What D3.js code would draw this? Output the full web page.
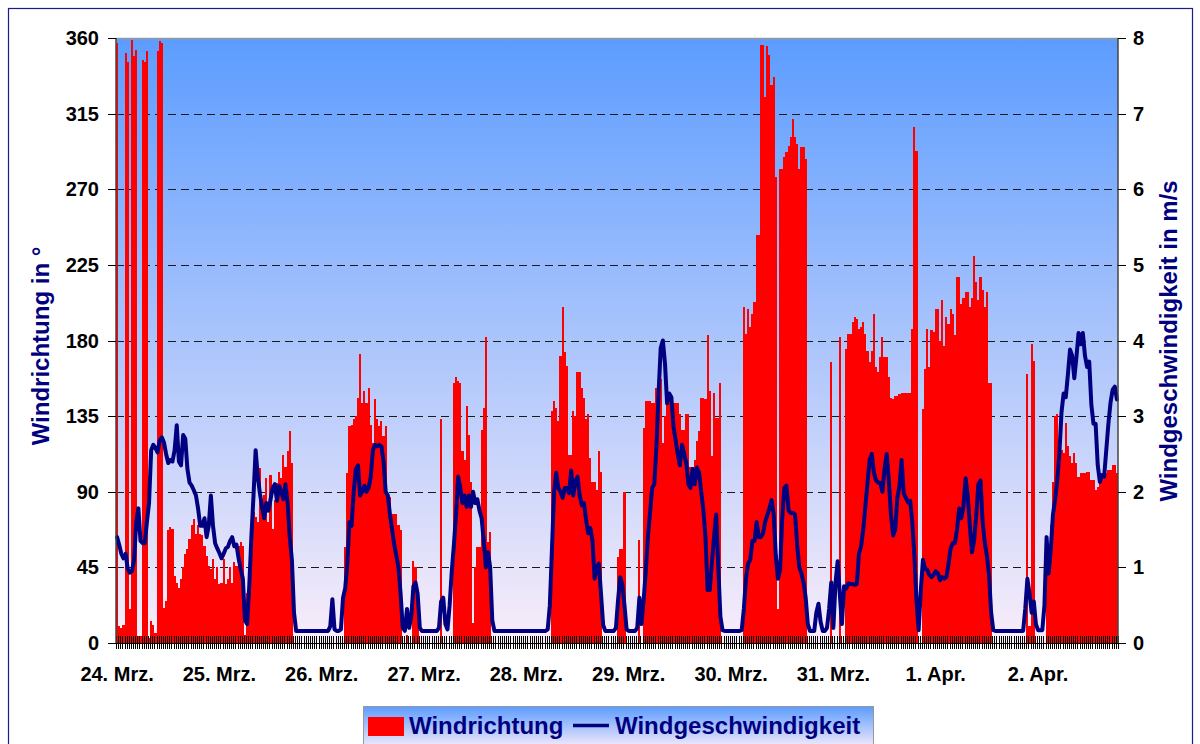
<!doctype html>
<html lang="en">
<head>
  <meta charset="utf-8">
  <title>Windrichtung und Windgeschwindigkeit</title>
  <style>
    body { margin:0; background:#fff; }
    svg { display:block; font-family: Arial, "Liberation Sans", sans-serif; }
    .tick-label { font-size:20px; font-weight:bold; fill:#000; }
    .axis-title { font-size:24px; font-weight:bold; fill:#000080; }
    .legend-text { font-size:24px; font-weight:bold; fill:#000080; }
  </style>
</head>
<body>
<svg id="chart" width="1200" height="744"></svg>

<script src="https://cdn.jsdelivr.net/npm/d3@7"></script>
<script>
// day labels on the category axis, one every 48 half-hour slots
var dayLabels = ["24. Mrz.", "25. Mrz.", "26. Mrz.", "27. Mrz.", "28. Mrz.",
                 "29. Mrz.", "30. Mrz.", "31. Mrz.", "1. Apr.", "2. Apr."];
var slotsPerDay = 48;
var dirTicks = [0, 45, 90, 135, 180, 225, 270, 315, 360];
var speedTicks = [0, 1, 2, 3, 4, 5, 6, 7, 8];

// Windrichtung in Grad, halbstuendlich
var dir24 = [357,10,9,11,351,346,20,359,349,353,4,4,347,346,352,3,13,11,6,352,358,357,21,25,
             67,69,68,40,36,33,38,45,53,56,62,70,74,65,70,65,64,58,52,46,44,50,38,45];
var dir25 = [35,36,50,35,38,45,36,48,46,58,60,58,5,30,45,60,78,75,72,104,80,88,98,72,
             100,68,85,95,102,98,112,105,114,126,107,0,0,0,0,0,0,0,0,0,0,0,0,0];
var dir26 = [0,0,0,0,0,0,0,0,0,0,0,57,101,129,130,133,135,146,172,143,150,143,152,130,
             119,145,133,129,132,123,129,85,87,77,77,77,70,67,0,0,5,0,0,49,45,30,0,0];
var dir27 = [0,0,0,0,0,0,0,0,133,0,0,0,0,0,155,158,156,155,114,109,141,124,96,12,
             45,57,57,127,140,182,60,66,0,0,0,0,0,0,0,0,0,0,0,0,0,0,0,0];
var dir28 = [0,0,0,0,0,0,0,0,0,0,0,0,138,144,140,132,171,200,173,165,112,112,138,135,
             161,161,152,146,133,136,110,96,96,91,114,102,0,0,0,0,0,0,0,51,56,56,90,0];
var dir29 = [0,0,0,0,0,61,0,128,144,144,144,143,143,152,157,157,119,135,149,149,143,143,143,143,
             136,127,127,136,136,105,105,109,120,126,146,146,145,183,150,111,149,134,134,155,0,0,0,0];
var dir30 = [0,0,0,0,0,0,200,184,199,188,196,203,243,243,356,356,325,355,350,332,337,277,20,282,
             282,289,292,296,301,312,301,297,282,295,295,288,0,0,0,0,0,0,0,0,0,0,0,167];
var dir31 = [0,0,0,182,0,0,175,184,184,191,194,193,187,188,191,184,174,167,174,196,164,161,170,182,
             170,170,158,146,145,147,147,148,149,149,149,149,149,187,307,293,0,0,139,163,187,164,186,185];
var dir01 = [199,199,180,204,177,194,190,199,196,183,218,218,202,205,209,209,200,205,230,215,204,218,210,200,
             209,155,155,0,0,0,0,0,0,0,0,0,0,0,0,0,0,0,0,160,10,178,168,0];
var dir02 = [0,0,0,0,42,55,70,96,135,136,117,115,113,131,117,111,107,113,107,99,101,101,101,102,
             102,97,97,91,93,96,99,99,101,103,103,106,106,101];

// Windgeschwindigkeit in m/s, halbstuendlich
var spd24 = [1.40,1.30,1.18,1.12,1.18,0.98,0.93,0.95,1.10,1.60,1.78,1.35,1.32,1.32,1.60,1.85,2.55,2.62,2.58,2.52,2.68,2.72,2.65,2.50,
             2.38,2.42,2.40,2.55,2.88,2.40,2.35,2.75,2.70,2.30,2.12,2.08,2.02,1.95,1.78,1.55,1.55,1.65,1.40,1.55,1.95,1.55,1.32,1.25];
var spd25 = [1.19,1.12,1.18,1.25,1.27,1.35,1.40,1.28,1.30,1.12,0.98,0.85,0.30,0.25,0.75,1.40,1.95,2.55,2.20,1.98,1.80,1.65,1.85,1.75,
             1.90,2.05,2.10,1.88,2.08,2.00,1.90,2.10,1.85,1.40,1.10,0.40,0.16,0.16,0.16,0.16,0.16,0.16,0.16,0.16,0.16,0.16,0.16,0.16];
var spd26 = [0.16,0.16,0.16,0.16,0.22,0.58,0.18,0.16,0.16,0.18,0.60,0.72,1.05,1.60,1.55,2.00,2.30,2.35,1.95,2.00,2.08,2.00,2.05,2.20,
             2.55,2.62,2.60,2.62,2.60,2.40,2.00,1.95,1.70,1.50,1.30,1.15,1.00,0.65,0.20,0.16,0.45,0.20,0.35,0.75,0.80,0.65,0.20,0.16];
var spd27 = [0.16,0.16,0.16,0.16,0.16,0.16,0.16,0.20,0.55,0.60,0.25,0.18,0.50,0.95,1.30,1.70,2.20,2.05,1.85,1.95,1.80,1.95,1.80,2.00,
             1.85,1.90,1.75,1.65,1.35,1.00,1.20,1.00,0.30,0.16,0.16,0.16,0.16,0.16,0.16,0.16,0.16,0.16,0.16,0.16,0.16,0.16,0.16,0.16];
var spd28 = [0.16,0.16,0.16,0.16,0.16,0.16,0.16,0.16,0.16,0.16,0.18,0.50,1.25,2.00,2.25,2.05,2.00,1.92,2.05,2.05,1.98,2.28,1.95,2.15,
             2.20,1.95,1.82,1.85,1.63,1.45,1.52,1.35,0.85,1.00,1.05,0.65,0.24,0.16,0.16,0.16,0.16,0.16,0.20,0.57,0.87,0.78,0.50,0.18];
var spd29 = [0.16,0.16,0.16,0.16,0.20,0.60,0.25,0.57,0.95,1.40,1.72,2.05,2.10,2.60,3.30,3.90,4.00,3.70,3.17,3.30,3.25,2.86,2.68,2.50,
             2.35,2.62,2.50,2.38,2.10,2.05,2.30,2.10,2.32,2.25,2.00,1.76,1.40,0.70,0.70,1.06,1.40,1.70,1.00,0.35,0.17,0.16,0.16,0.16];
var spd30 = [0.16,0.16,0.16,0.16,0.16,0.17,0.45,0.85,1.05,1.10,1.35,1.35,1.60,1.40,1.40,1.45,1.60,1.69,1.78,1.89,1.70,1.15,0.85,0.97,
             1.65,2.05,2.08,1.75,1.72,1.72,1.70,1.30,1.00,0.92,0.80,0.60,0.25,0.16,0.16,0.16,0.40,0.52,0.28,0.16,0.16,0.20,0.45,0.80];
var spd31 = [0.20,0.80,1.08,0.65,0.25,0.75,0.72,0.79,0.78,0.78,0.77,0.78,1.18,1.28,1.50,1.80,2.12,2.42,2.50,2.25,2.15,2.12,2.12,2.00,
             2.30,2.50,2.15,1.70,1.42,1.50,1.92,2.08,2.42,1.98,1.92,1.86,1.88,1.60,1.15,0.55,0.17,0.70,1.10,0.98,0.97,0.90,0.87,0.90];
var spd01 = [0.95,0.92,0.83,0.87,0.85,0.87,1.05,1.25,1.32,1.32,1.50,1.78,1.65,1.80,2.18,1.95,1.55,1.20,1.35,1.68,2.10,2.15,1.60,1.33,
             1.15,0.90,0.40,0.17,0.16,0.16,0.16,0.16,0.16,0.16,0.16,0.16,0.16,0.16,0.16,0.16,0.16,0.16,0.45,0.85,0.65,0.40,0.55,0.25];
var spd02 = [0.17,0.17,0.17,0.50,1.40,0.92,1.25,1.70,1.90,2.15,2.50,3.05,3.30,3.25,3.55,3.88,3.80,3.50,3.78,4.10,3.95,4.10,3.80,3.65,
             3.72,3.15,2.90,2.90,2.35,2.13,2.22,2.20,2.55,2.90,3.18,3.35,3.39,3.22];

var windDir = [].concat(dir24, dir25, dir26, dir27, dir28, dir29, dir30, dir31, dir01, dir02);
var windSpeed = [].concat(spd24, spd25, spd26, spd27, spd28, spd29, spd30, spd31, spd01, spd02);

var plotLeft = 116, plotRight = 1118, plotTop = 38, plotBottom = 643;
var navy = "#000080";

var svg = d3.select("#chart");

var x = d3.scaleBand().domain(d3.range(windDir.length)).range([plotLeft, plotRight]).padding(0);
var yDir = d3.scaleLinear().domain([0, 360]).range([plotBottom, plotTop]);
var ySpeed = d3.scaleLinear().domain([0, 8]).range([plotBottom, plotTop]);
var bw = x.bandwidth();

// background gradient
var defs = svg.append("defs");
var grad = defs.append("linearGradient").attr("id", "bg")
  .attr("x1", 0).attr("y1", 0).attr("x2", 0).attr("y2", 1);
grad.append("stop").attr("offset", "0%").attr("stop-color", "#5c9cff");
grad.append("stop").attr("offset", "100%").attr("stop-color", "#f9edf9");

// outer frame
svg.append("rect").attr("x", 8.5).attr("y", 8.5).attr("width", 1184).attr("height", 800)
  .attr("fill", "#fff").attr("stroke", "#1c1c8c").attr("stroke-width", 1.2);

svg.append("rect").attr("x", plotLeft).attr("y", plotTop)
  .attr("width", plotRight - plotLeft).attr("height", plotBottom - plotTop)
  .attr("fill", "url(#bg)");

// gridlines
svg.append("g").selectAll("line")
  .data(dirTicks.filter(function (d) { return d > 0 && d < 360; }))
  .join("line")
  .attr("x1", plotLeft).attr("x2", plotRight)
  .attr("y1", function (d) { return Math.round(yDir(d)) + 0.5; })
  .attr("y2", function (d) { return Math.round(yDir(d)) + 0.5; })
  .attr("stroke", "#1a1a1a").attr("stroke-width", 1)
  .attr("stroke-dasharray", "8,5");
svg.append("line").attr("x1", plotLeft).attr("x2", plotRight)
  .attr("y1", plotTop + 0.5).attr("y2", plotTop + 0.5)
  .attr("stroke", "#999").attr("stroke-width", 1.5);

// bars: Windrichtung
svg.append("g").selectAll("rect")
  .data(windDir)
  .join("rect")
  .attr("x", function (d, i) { return x(i); })
  .attr("width", bw)
  .attr("y", function (d) { return yDir(d); })
  .attr("height", function (d) { return plotBottom - yDir(d); })
  .attr("fill", "#ff0000")
  .attr("shape-rendering", "crispEdges");

// category ticks
svg.append("g").selectAll("line")
  .data(d3.range(windDir.length + 1))
  .join("line")
  .attr("x1", function (i) { return Math.round(plotLeft + i * bw) + 0.5; })
  .attr("x2", function (i) { return Math.round(plotLeft + i * bw) + 0.5; })
  .attr("y1", plotBottom - 7).attr("y2", plotBottom + 6)
  .attr("stroke", "#000").attr("stroke-width", 1);

// line: Windgeschwindigkeit
var line = d3.line()
  .x(function (d, i) { return x(i) + bw / 2; })
  .y(function (d) { return ySpeed(d); });
svg.append("path").datum(windSpeed)
  .attr("d", line)
  .attr("fill", "none")
  .attr("stroke", navy)
  .attr("stroke-width", 4)
  .attr("stroke-linejoin", "round")
  .attr("stroke-linecap", "round");

// axes lines
svg.append("line").attr("x1", plotLeft).attr("x2", plotLeft).attr("y1", plotTop).attr("y2", plotBottom)
  .attr("stroke", "#444").attr("stroke-width", 1.5);
svg.append("line").attr("x1", plotRight).attr("x2", plotRight).attr("y1", plotTop).attr("y2", plotBottom)
  .attr("stroke", "#444").attr("stroke-width", 1.5);
svg.append("line").attr("x1", plotLeft - 8).attr("x2", plotRight + 8).attr("y1", plotBottom + 0.5).attr("y2", plotBottom + 0.5)
  .attr("stroke", "#000").attr("stroke-width", 1.2);

// left axis ticks and labels
var gl = svg.append("g");
gl.selectAll("line").data(dirTicks).join("line")
  .attr("x1", plotLeft - 8).attr("x2", plotLeft)
  .attr("y1", function (d) { return Math.round(yDir(d)) + 0.5; })
  .attr("y2", function (d) { return Math.round(yDir(d)) + 0.5; })
  .attr("stroke", "#000");
gl.selectAll("text").data(dirTicks).join("text")
  .attr("class", "tick-label")
  .attr("x", 99).attr("y", function (d) { return yDir(d) + 7; })
  .attr("text-anchor", "end")
  .text(function (d) { return d; });

// right axis ticks and labels
var gr = svg.append("g");
gr.selectAll("line").data(speedTicks).join("line")
  .attr("x1", plotRight).attr("x2", plotRight + 8)
  .attr("y1", function (d) { return Math.round(ySpeed(d)) + 0.5; })
  .attr("y2", function (d) { return Math.round(ySpeed(d)) + 0.5; })
  .attr("stroke", "#000");
gr.selectAll("text").data(speedTicks).join("text")
  .attr("class", "tick-label")
  .attr("x", 1133).attr("y", function (d) { return ySpeed(d) + 7; })
  .text(function (d) { return d; });

// day labels
svg.append("g").selectAll("text").data(dayLabels).join("text")
  .attr("class", "tick-label")
  .attr("x", function (d, i) { return x(i * slotsPerDay) + bw / 2; })
  .attr("y", 681)
  .attr("text-anchor", "middle")
  .text(function (d) { return d; });

// axis titles
svg.append("text").attr("class", "axis-title")
  .attr("transform", "translate(49,346) rotate(-90)")
  .attr("text-anchor", "middle")
  .text("Windrichtung in °");
svg.append("text").attr("class", "axis-title")
  .attr("transform", "translate(1177,341) rotate(-90)")
  .attr("text-anchor", "middle")
  .text("Windgeschwindigkeit in m/s");

// legend
var lg = svg.append("g");
lg.append("rect").attr("x", 363.5).attr("y", 706.5).attr("width", 510).attr("height", 42)
  .attr("fill", "url(#bg)").attr("stroke", "#999").attr("stroke-width", 1);
lg.append("rect").attr("x", 368).attr("y", 717).attr("width", 36).attr("height", 19).attr("fill", "#ff0000");
lg.append("text").attr("class", "legend-text").attr("x", 409).attr("y", 734).text("Windrichtung");
lg.append("line").attr("x1", 573).attr("x2", 609).attr("y1", 725.5).attr("y2", 725.5)
  .attr("stroke", navy).attr("stroke-width", 3.5);
lg.append("text").attr("class", "legend-text").attr("x", 615).attr("y", 734).text("Windgeschwindigkeit");
</script>
</body>
</html>
